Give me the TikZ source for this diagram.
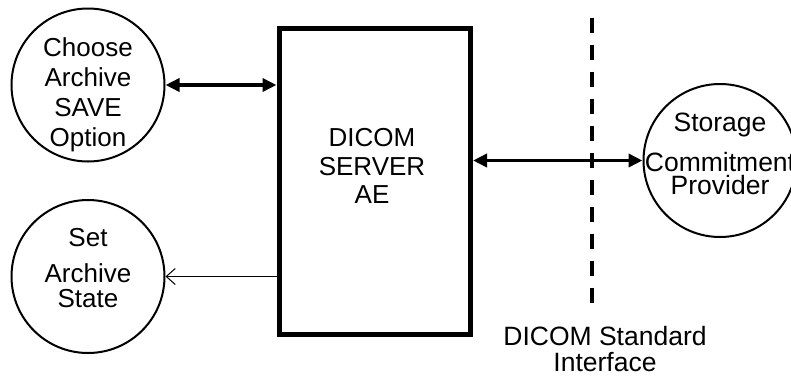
\documentclass[tikz,border=0pt]{standalone}
\usepackage{fontspec}
\setmainfont{Liberation Sans}
\usetikzlibrary{arrows.meta}
\begin{document}
\begin{tikzpicture}[x=1pt,y=-1pt,
  circ/.style={circle,draw,line width=2pt,minimum size=153pt,inner sep=0pt},
  txt/.style={align=center,inner sep=0pt},
  bigarrow/.style={line width=3.5pt,{Triangle[length=14pt,width=13pt]}-{Triangle[length=14pt,width=13pt]}},
  thinarrow/.style={line width=1pt,-{Straight Barb[length=9pt,width=16pt]}},
  iface/.style={line width=4pt,dash pattern=on 15pt off 12pt}]
\useasboundingbox (0,0) rectangle (791,375);
\node[circ] (c1) at (88,85) {};
\node[circ] (c2) at (88,276.5) {};
\node[circ] (c3) at (720,160.5) {};
\node[draw,line width=5pt,minimum width=191.5pt,minimum height=306pt,inner sep=0pt] (srv) at (374.75,181) {};
\coordinate (dtop) at (591.7,17.7);
\coordinate (dbot) at (591.7,302.7);
\draw[iface] (dtop) -- (dbot);
\draw[bigarrow] (c1.east) -- (c1.east -| srv.west);
\draw[bigarrow] (c3.west -| srv.east) -- (c3.west);
\draw[thinarrow] (c2.east -| srv.west) -- (c2.east);
\node[txt,font=\fontsize{26}{30}\selectfont] (t1) at (88,95.2) {Choose\\Archive\\SAVE\\Option};
\node[txt,font=\fontsize{26}{25}\selectfont] (t2) at (88,268) {Set\\[11pt]Archive\\State};
\node[txt,font=\fontsize{26}{28.5}\selectfont] (t0) at (372,166.4) {DICOM\\SERVER\\AE};
\node[txt,font=\fontsize{26.5}{23}\selectfont] (t3) at (720,154) {Storage\\[14pt]Commitment\\Provider};
\node[txt,font=\fontsize{26.5}{26}\selectfont] (t4) at (605,348.8) {DICOM Standard\\Interface};
\end{tikzpicture}
\end{document}
